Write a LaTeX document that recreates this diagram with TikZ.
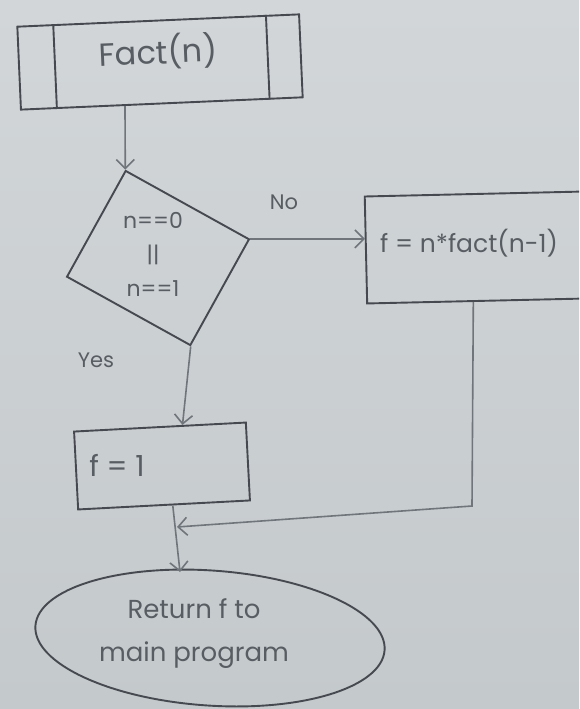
\documentclass[tikz,border=0pt]{standalone}
\usepackage{fontspec}
\setmainfont{Poppins}
\usetikzlibrary{arrows.meta,calc,shapes.geometric}
\definecolor{paperlight}{RGB}{210,214,217}
\definecolor{paperdark}{RGB}{196,201,204}
\definecolor{pencil}{RGB}{70,74,80}
\definecolor{softpencil}{RGB}{112,117,123}
\definecolor{ink}{RGB}{88,93,99}
\begin{document}
\begin{tikzpicture}[x=1pt,y=-1pt,
  flow/.style={draw=pencil, line width=1.9pt},
  flowarrow/.style={draw=softpencil, line width=1.6pt,
    -{Straight Barb[length=9pt,width=18pt,line width=1.6pt]}},
  handtext/.style={text=ink, inner sep=0pt},
  big/.style={font=\fontsize{29}{32}\selectfont},
  mid/.style={font=\fontsize{22}{34}\selectfont},
  small/.style={font=\fontsize{21}{24}\selectfont}]
  % paper
  \useasboundingbox (0,0) rectangle (579,709);
  \clip (0,0) rectangle (579,709);
  \shade[top color=paperlight, bottom color=paperdark] (0,0) rectangle (579,709);

  % predefined process: Fact(n)
  \node[flow, minimum width=282pt, minimum height=83pt, rotate=2.5] (fact) at (160,62) {};
  \draw[flow] ($(fact.north west)!0.13!(fact.north east)$) -- ($(fact.south west)!0.13!(fact.south east)$);
  \draw[flow] ($(fact.north west)!0.88!(fact.north east)$) -- ($(fact.south west)!0.88!(fact.south east)$);
  \node[handtext, font=\fontsize{32}{36}\selectfont, rotate=2.5] (facttxt) at (158,52) {Fact(n)};

  % decision
  \node[flow, minimum width=141pt, minimum height=121pt, rotate=-29] (dec) at (158,258) {};
  \node[handtext, mid, align=center] (dectxt) at (153,254) {n==0\\||\\n==1};

  % recursive step
  \node[flow, minimum width=280pt, minimum height=107pt, rotate=1.3, anchor=west] (rbox) at (365,250) {};
  \node[handtext, font=\fontsize{25}{28}\selectfont, anchor=west] (rtxt) at (380,243) {f = n*fact(n-1)};

  % base case
  \node[flow, minimum width=172pt, minimum height=78pt, rotate=3] (fone) at (162,466) {};
  \node[handtext, big] (fonetxt) at (117,465) {f = 1};

  % terminal
  \node[flow, ellipse, minimum width=350pt, minimum height=135pt, rotate=-4] (ret) at (210,638) {};
  \node[handtext, align=center, font=\fontsize{26}{43}\selectfont] (rettxt) at (194,634) {Return f to\\main program};

  % branch labels
  \node[handtext, small] (nolbl) at (284,202) {No};
  \node[handtext, small] (yeslbl) at (96,360) {Yes};

  % connectors
  \draw[flowarrow] ($(fact.south west)!0.37!(fact.south east)$) -- (dec.north west);
  \draw[flowarrow] (dec.north east) -- (dec.north east -| rbox.west);
  \draw[flowarrow] (dec.south east) -- ($(fone.north west)!0.63!(fone.north east)$);
  \coordinate (join) at (177,527);
  \coordinate (bend) at (472,506);
  \coordinate (retin) at (180,572);
  \draw[flowarrow] ($(rbox.south west)!0.38!(rbox.south east)$) -- (bend) -- (join);
  \draw[flowarrow] ($(fone.south west)!0.55!(fone.south east)$) -- (retin);
\end{tikzpicture}
\end{document}
